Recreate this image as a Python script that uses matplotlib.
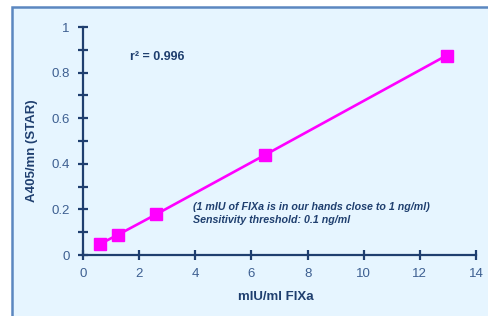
import matplotlib
matplotlib.use("Agg")
import matplotlib.pyplot as plt
from matplotlib.patches import Rectangle
from matplotlib.ticker import MultipleLocator

plt.rcParams['font.family'] = ['Liberation Sans', 'DejaVu Sans']

# dati
conc = [0.6, 1.25, 2.6, 6.5, 12.95]
absorb = [0.048, 0.089, 0.178, 0.44, 0.875]

x_ticks = [0, 2, 4, 6, 8, 10, 12, 14]
y_ticks = [0, 0.2, 0.4, 0.6, 0.8, 1]

navy = "#1F3F6F"
label_col = "#3D5F91"
bg = "#E6F5FF"

fig = plt.figure(figsize=(4.89, 3.16), dpi=100)
fig.patch.set_facecolor("white")
# riquadro di sfondo (bordi destro e basso fuori dall'immagine)
fig.patches.append(Rectangle((12.5 / 489, -0.1), 1.2, 1 - 6.5 / 316 + 0.1,
                             transform=fig.transFigure, facecolor=bg,
                             edgecolor="#5B87C0", linewidth=1.8, zorder=-10))

ax = fig.add_axes([83 / 489, 1 - 255 / 316, (476 - 83) / 489, (255 - 27) / 316])
ax.set_facecolor("none")
ax.set_zorder(5)

ax.plot(conc, absorb, color="#FF00FF", lw=1.9, marker="s", markersize=8.5,
        clip_on=False, zorder=3)

ax.set_xlim(0, 14)
ax.set_ylim(0, 1)
ax.set_xticks(x_ticks)
ax.set_yticks(y_ticks)
ax.set_xticklabels([str(v) for v in x_ticks])
ax.set_yticklabels(["0", "0.2", "0.4", "0.6", "0.8", "1"])
ax.yaxis.set_minor_locator(MultipleLocator(0.1))

for s in ["top", "right"]:
    ax.spines[s].set_visible(False)
for s in ["left", "bottom"]:
    ax.spines[s].set_color(navy)
    ax.spines[s].set_linewidth(1.6)

ax.tick_params(axis="both", which="both", direction="inout", color=navy,
               width=1.6, labelcolor=label_col, labelsize=9.5)
ax.tick_params(axis="both", which="major", length=7)
ax.tick_params(axis="y", which="minor", length=7)
ax.tick_params(axis="x", pad=6)
ax.tick_params(axis="y", pad=6)

ax.set_xlabel("mIU/ml FIXa", fontsize=9.5, fontweight="bold", color=navy)
ax.set_ylabel("A405/mn (STAR)", fontsize=9.5, fontweight="bold", color=navy)
ax.xaxis.set_label_coords((275.5 - 83) / 393, -(297 - 255) / 228, transform=ax.transAxes)
ax.yaxis.set_label_coords(-(83 - 32) / 393, (255 - 151) / 228, transform=ax.transAxes)
ax.xaxis.label.set_va("center")
ax.yaxis.label.set_va("center")

ax.text(1.67, 0.868, "r² = 0.996", fontsize=9, fontweight="bold",
        color=navy, va="center", ha="left")
ax.text(3.92, 0.21, "(1 mIU of FIXa is in our hands close to 1 ng/ml)",
        fontsize=7.7, fontweight="bold", style="italic", color=navy, va="center")
ax.text(3.92, 0.153, "Sensitivity threshold: 0.1 ng/ml",
        fontsize=7.7, fontweight="bold", style="italic", color=navy, va="center")

fig.savefig("out.png", dpi=100)
